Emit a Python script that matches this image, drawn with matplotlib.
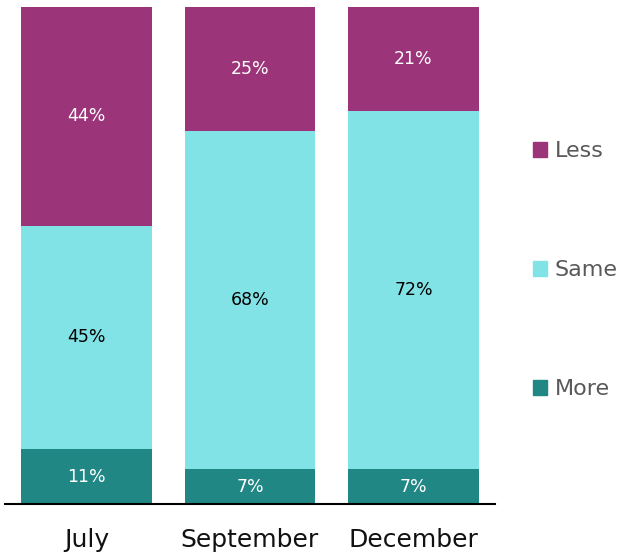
import matplotlib
matplotlib.use("Agg")
import matplotlib.pyplot as plt
from matplotlib.patches import Patch

months = ["July", "September", "December"]
more = [11, 7, 7]
same = [45, 68, 72]
less = [44, 25, 21]

series = [("More", more, "#218785", "white"),
          ("Same", same, "#82E3E6", "black"),
          ("Less", less, "#9B3479", "white")]

fig = plt.figure(figsize=(6.29, 5.57), dpi=100)
ax = fig.add_axes([0.00755, 0.0952, 0.7797, 0.8922])

x = range(len(months))
bottom = [0] * len(months)
for name, vals, color, tcolor in series:
    bars = ax.bar(x, vals, bottom=bottom, width=0.8, color=color, label=name)
    for xi, b, v in zip(x, bottom, vals):
        ax.text(xi, b + v / 2, f"{v}%", ha="center", va="center",
                fontsize=12.5, color=tcolor)
    bottom = [b + v for b, v in zip(bottom, vals)]

ax.set_xlim(-0.5, 2.5)
ax.set_ylim(0, 100)
ax.set_xticks(list(x))
ax.set_xticklabels(months, fontsize=18, color="#111111")
ax.tick_params(axis="x", length=0, pad=17)
ax.set_yticks([])
for s in ["top", "left", "right"]:
    ax.spines[s].set_visible(False)
ax.spines["bottom"].set_linewidth(1.5)
ax.spines["bottom"].set_color("black")

handles = [Patch(color=c, label=n) for n, _, c, _ in reversed(series)]
leg = fig.legend(handles=handles, loc="center left", bbox_to_anchor=(0.8325, 0.515),
                 frameon=False, fontsize=16, handlelength=0.65, handleheight=0.65,
                 handletextpad=0.35, labelspacing=4.45, borderaxespad=0)
for t in leg.get_texts():
    t.set_color("#595959")

fig.savefig("out.png", dpi=100)
